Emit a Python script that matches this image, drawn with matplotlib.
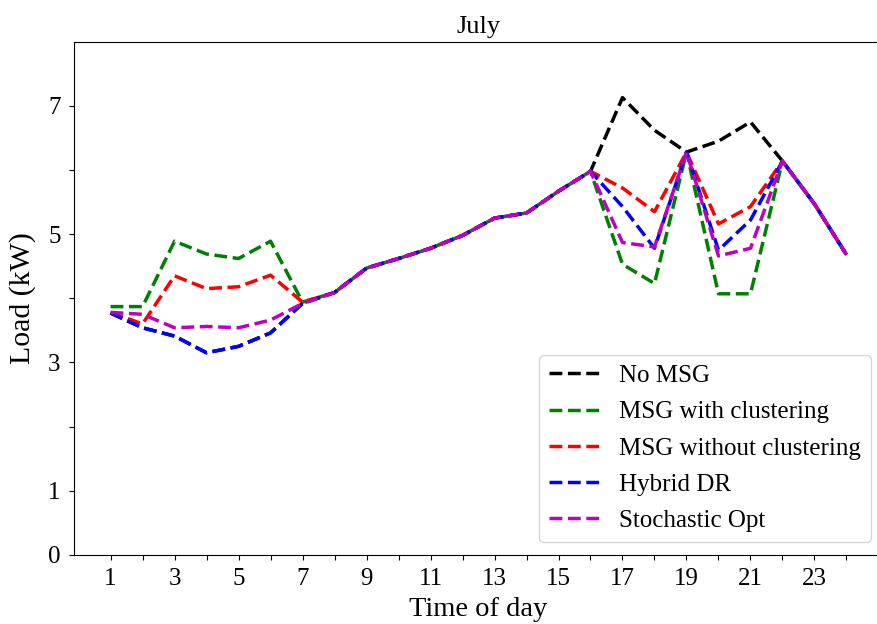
import matplotlib
matplotlib.use('Agg')
import matplotlib.pyplot as plt

plt.rcParams['font.family'] = 'serif'
plt.rcParams['font.serif'] = ['Liberation Serif', 'DejaVu Serif']

hours = list(range(1, 25))

no_msg = [3.77, 3.54, 3.41, 3.15, 3.25, 3.46, 3.92, 4.09, 4.47, 4.62, 4.78, 4.98,
          5.25, 5.33, 5.67, 5.98, 7.13, 6.62, 6.28, 6.45, 6.75, 6.14, 5.47, 4.68]
msg_clust = [3.87, 3.87, 4.89, 4.69, 4.62, 4.89, 3.94, 4.09, 4.47, 4.62, 4.78, 4.98,
             5.25, 5.33, 5.67, 5.98, 4.53, 4.23, 6.28, 4.07, 4.07, 6.14, 5.47, 4.68]
msg_noclust = [3.78, 3.6, 4.35, 4.15, 4.18, 4.36, 3.94, 4.09, 4.47, 4.62, 4.78, 4.98,
               5.25, 5.33, 5.67, 5.98, 5.72, 5.35, 6.28, 5.16, 5.43, 6.14, 5.47, 4.68]
hybrid = [3.77, 3.54, 3.41, 3.15, 3.25, 3.46, 3.92, 4.09, 4.47, 4.62, 4.78, 4.98,
          5.25, 5.33, 5.67, 5.98, 5.43, 4.78, 6.28, 4.75, 5.22, 6.14, 5.47, 4.68]
stoch = [3.78, 3.75, 3.54, 3.56, 3.54, 3.66, 3.92, 4.09, 4.47, 4.62, 4.78, 4.98,
         5.25, 5.33, 5.67, 5.98, 4.87, 4.8, 6.28, 4.66, 4.78, 6.14, 5.47, 4.68]

series = [
    (no_msg, 'k', 'No MSG'),
    (msg_clust, 'g', 'MSG with clustering'),
    (msg_noclust, 'r', 'MSG without clustering'),
    (hybrid, 'b', 'Hybrid DR'),
    (stoch, 'm', 'Stochastic Opt'),
]

fig = plt.figure(figsize=(8.78, 6.24), dpi=100)
# axes runs a bit past the right edge, as in the cropped original
ax = fig.add_axes([0.084, 0.111, 0.922, 0.822])

for vals, col, lab in series:
    ax.plot(hours, vals, '--', color=col, lw=2.5, label=lab)

ax.set_ylim(0, 8)
ax.set_yticks(range(8))
ax.set_yticklabels(['0', '1', '', '3', '', '5', '', '7'])
ax.set_xticks(hours)
ax.set_xticklabels([str(h) if h % 2 == 1 else '' for h in hours])
ax.tick_params(labelsize=18, pad=6)

ax.set_xlabel('Time of day', fontsize=20.5, labelpad=5)
ax.set_ylabel('Load (kW)', fontsize=21.5, labelpad=9)
ax.set_title('July', fontsize=19)
ax.legend(loc='lower right', fontsize=18, labelspacing=0.55)

fig.savefig('out.png', dpi=100)
